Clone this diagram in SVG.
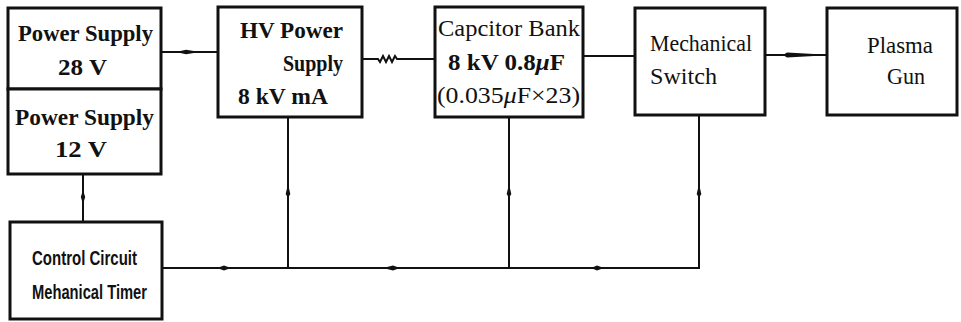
<svg xmlns="http://www.w3.org/2000/svg" width="961" height="322" viewBox="0 0 961 322">
<style>
.box{fill:#fff;stroke:#111;stroke-width:3}
.ln{fill:none;stroke:#111;stroke-width:2}
.ah{fill:#111;stroke:none}
.tb{font-family:"Liberation Serif","Times New Roman",serif;font-weight:bold;font-size:23px;fill:#111}
.tr{font-family:"Liberation Serif","Times New Roman",serif;font-size:23px;fill:#111}
.tc{font-family:"Liberation Sans",Arial,sans-serif;font-weight:bold;font-size:20px;fill:#111}
</style>
<rect width="961" height="322" fill="#fff"/>
<g id="connectors">
<path class="ln" d="M161,52 L218,52"/>
<path class="ah" d="M176,52 L186,49.8 L200,52 L186,54.2 Z"/>
<path class="ln" d="M362,59 L378,59 l2,3 l3,-6 l3,6 l3,-6 l3,6 l3,-6 l2,3 L435,59" stroke-width="2.2"/>
<path class="ln" d="M583,56 L635,56"/>
<path class="ln" d="M765,55 L827,55"/>
<path class="ah" d="M783,55 L787,52.5 L823,54.5 L823,55.5 L787,57.5 Z"/>
<path class="ln" d="M83,174 L83,222"/>
<path class="ah" d="M83,190 L85.2,197 L83,204 L80.8,197 Z"/>
<path class="ln" d="M162,268 L699,268 L699,115"/>
<path class="ln" d="M288,117 L288,268"/>
<path class="ln" d="M509,117 L509,268"/>
<path class="ah" d="M288,184 L290.3,194 L288,198 L285.7,194 Z"/>
<path class="ah" d="M509,184 L511.3,194 L509,198 L506.7,194 Z"/>
<path class="ah" d="M699,184 L701.3,194 L699,198 L696.7,194 Z"/>
<path class="ah" d="M217,268 L224,265.5 L231,268 L224,270.5 Z"/>
<path class="ah" d="M383,268 L393,265.5 L400,268 L393,270.5 Z"/>
<path class="ah" d="M591,268 L597,265.5 L604,268 L597,270.5 Z"/>
</g>
<g id="ps28">
<rect class="box" x="8" y="8" width="153" height="81"/>
<text class="tb" x="18" y="41" textLength="135" lengthAdjust="spacingAndGlyphs">Power Supply</text>
<text class="tb" x="58" y="75" textLength="49" lengthAdjust="spacingAndGlyphs">28 V</text>
</g>
<g id="ps12">
<rect class="box" x="8" y="89" width="153" height="85"/>
<text class="tb" x="15" y="125" textLength="139" lengthAdjust="spacingAndGlyphs">Power Supply</text>
<text class="tb" x="55" y="157" textLength="52" lengthAdjust="spacingAndGlyphs">12 V</text>
</g>
<g id="hv">
<rect class="box" x="218" y="7" width="144" height="110"/>
<text class="tb" x="240" y="38" textLength="103" lengthAdjust="spacingAndGlyphs">HV Power</text>
<text class="tb" x="283" y="71" textLength="60" lengthAdjust="spacingAndGlyphs">Supply</text>
<text class="tb" x="238" y="104" textLength="90" lengthAdjust="spacingAndGlyphs">8 kV mA</text>
</g>
<g id="cap">
<rect class="box" x="435" y="7" width="148" height="110"/>
<text class="tr" x="438" y="36" textLength="142" lengthAdjust="spacingAndGlyphs">Capcitor Bank</text>
<text class="tb" x="448" y="70" textLength="117" lengthAdjust="spacingAndGlyphs">8 kV 0.8<tspan font-style="italic">μ</tspan>F</text>
<text class="tr" x="437" y="103" textLength="143" lengthAdjust="spacingAndGlyphs">(0.035<tspan font-style="italic">μ</tspan>F×23)</text>
</g>
<g id="mech">
<rect class="box" x="635" y="8" width="130" height="107"/>
<text class="tr" x="650" y="51" textLength="102" lengthAdjust="spacingAndGlyphs">Mechanical</text>
<text class="tr" x="650" y="84" textLength="67" lengthAdjust="spacingAndGlyphs">Switch</text>
</g>
<g id="plasma">
<rect class="box" x="827" y="8" width="130" height="107"/>
<text class="tr" x="867" y="53" textLength="66" lengthAdjust="spacingAndGlyphs">Plasma</text>
<text class="tr" x="887" y="84" textLength="38" lengthAdjust="spacingAndGlyphs">Gun</text>
</g>
<g id="control">
<rect class="box" x="10" y="222" width="152" height="97"/>
<text class="tc" x="32" y="265" textLength="105" lengthAdjust="spacingAndGlyphs">Control Circuit</text>
<text class="tc" x="32" y="299" textLength="115" lengthAdjust="spacingAndGlyphs">Mehanical Timer</text>
</g>
</svg>
